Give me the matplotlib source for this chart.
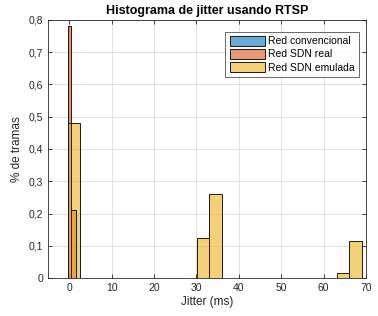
import numpy as np
import matplotlib
matplotlib.use('Agg')
import matplotlib.pyplot as plt
from matplotlib.ticker import FuncFormatter

# histogram bins (left edge, width, fraction of frames)
conv_left = []
conv_width = []
conv_frac = []

real_left = [-0.4, 0.5]
real_width = [0.9, 1.0]
real_frac = [0.78, 0.21]

emu_left = [-0.4, 30.1, 33.1, 63.1, 66.1]
emu_width = [3.0, 3.0, 3.0, 3.0, 3.0]
emu_frac = [0.48, 0.125, 0.26, 0.015, 0.115]

labels = ['Red convencional', 'Red SDN real', 'Red SDN emulada']
colors = [(0, 0.447, 0.741), (0.85, 0.325, 0.098), (0.929, 0.694, 0.125)]

plt.rcParams['font.family'] = ['Liberation Sans', 'DejaVu Sans']
txt = '#262626'

fig = plt.figure(figsize=(3.78, 3.16), dpi=100)
ax = fig.add_axes([0.127, 0.12, 0.841, 0.817])

series = [(conv_left, conv_width, conv_frac),
          (real_left, real_width, real_frac),
          (emu_left, emu_width, emu_frac)]
for (left, width, frac), lab, c in zip(series, labels, colors):
    ax.bar(left, frac, width=width, align='edge', color=c, alpha=0.6,
           edgecolor='none', label=lab, zorder=2)
    ax.bar(left, frac, width=width, align='edge', facecolor='none',
           edgecolor='#1a1a1a', linewidth=0.7, zorder=3)

ax.set_xlim(-5, 70)
ax.set_ylim(0, 0.8)
ax.set_xticks(np.arange(0, 71, 10))
ax.set_yticks(np.arange(0, 0.81, 0.1))
ax.yaxis.set_major_formatter(FuncFormatter(lambda v, p: ('%g' % round(v, 1)).replace('.', ',')))
ax.grid(True, color='#dcdcdc', linewidth=0.6, zorder=0)
ax.set_axisbelow(True)
ax.tick_params(direction='in', top=True, right=True, labelsize=7.5,
               colors=txt, length=3, width=0.6)
for s in ax.spines.values():
    s.set_color(txt)
    s.set_linewidth(0.6)

ax.set_title('Histograma de jitter usando RTSP', fontsize=9,
             fontweight='bold', color='black', pad=4)
ax.set_xlabel('Jitter (ms)', fontsize=8.5, color=txt, labelpad=2)
ax.set_ylabel('% de tramas', fontsize=8.5, color=txt, labelpad=4)

leg = ax.legend(loc='upper right', bbox_to_anchor=(0.978, 0.955),
                fontsize=7.5, frameon=True, fancybox=False,
                borderpad=0.4, labelspacing=0.25, handlelength=3.4,
                handleheight=1.1, handletextpad=0.3, borderaxespad=0.0)
leg.get_frame().set_edgecolor(txt)
leg.get_frame().set_linewidth(0.6)
for h, c in zip(leg.legend_handles, colors):
    h.set_alpha(None)
    h.set_facecolor((*c, 0.6))
    h.set_edgecolor('#1a1a1a')
    h.set_linewidth(0.7)

fig.savefig('out.png', dpi=100)
